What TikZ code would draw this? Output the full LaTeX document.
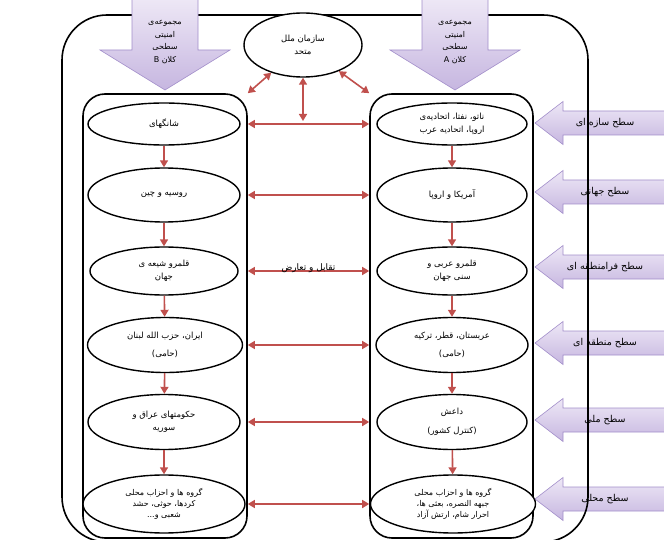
\documentclass[tikz,border=0pt]{standalone}
\usepackage{fontspec}
\newfontfamily\fafont[Script=Arabic]{DejaVu Sans}
\TeXXeTstate=1
\usetikzlibrary{positioning, calc, shapes.geometric, arrows.meta}
\definecolor{linkred}{HTML}{C0504D}
\definecolor{lavtop}{HTML}{EEE8F6}
\definecolor{lavbot}{HTML}{C6B6E0}
\definecolor{lavline}{HTML}{A28ECA}
\newcommand{\fatxt}[1]{\beginR #1\endR}

\begin{document}
\begin{tikzpicture}[x=1pt, y=-1pt,
    fabox/.style={draw, ellipse, line width=1.4pt, fill=white, inner sep=0pt, align=center, font=\fafont\fontsize{8.5}{12.5}\selectfont},
    colbox/.style={draw, rounded corners=22pt, line width=1.6pt, minimum width=164pt, minimum height=444pt},
    lavarrow/.style={draw=lavline, line width=0.6pt, top color=lavtop, bottom color=lavbot},
    lavtext/.style={font=\fafont\fontsize{9.5}{12}\selectfont, align=center},
    redone/.style={draw=linkred, line width=1.6pt, -{Triangle[width=8pt,length=7pt]}},
    redboth/.style={draw=linkred, line width=1.6pt, {Triangle[width=8pt,length=7pt]}-{Triangle[width=8pt,length=7pt]}}]
    \useasboundingbox (0,0) rectangle (664,540);

    % levels on the right side
    \foreach \yy/\lbl [count=\i] in {123/{سطح سازه ای}, 192/{سطح جهانی}, 267/{سطح فرامنطقه ای}, 343/{سطح منطقه ای}, 420/{سطح ملی}, 499/{سطح محلی}} {
        \draw [lavarrow] (535,\yy) -- (563,\yy-21.5) -- (563,\yy-12) -- (672,\yy-12) -- (672,\yy+12) -- (563,\yy+12) -- (563,\yy+21.5) -- cycle;
        \node (s\i) [lavtext] at (605,\yy) {\fatxt{\lbl}};
    }

    % frame and the two columns
    \draw [line width=1.6pt, rounded corners=45pt] (62,15) rectangle (588,542);
    \node (colL) [colbox] at (165,316) {};
    \node (colR) [colbox, minimum width=163pt] at (451.5,316) {};

    % the two macro security complexes
    \draw [lavarrow] (132,-2) -- (198,-2) -- (198,50) -- (230,50) -- (165,90) -- (100,50) -- (132,50) -- cycle;
    \node (setB) [lavtext, font=\fafont\fontsize{8}{12.5}\selectfont] at (165,42) {\fatxt{مجموعه‌ی}\\\fatxt{امنیتی}\\\fatxt{سطحی}\\\fatxt{کلان B}};
    \draw [lavarrow] (422,-2) -- (488,-2) -- (488,50) -- (520,50) -- (455,90) -- (390,50) -- (422,50) -- cycle;
    \node (setA) [lavtext, font=\fafont\fontsize{8}{12.5}\selectfont] at (455,42) {\fatxt{مجموعه‌ی}\\\fatxt{امنیتی}\\\fatxt{سطحی}\\\fatxt{کلان A}};

    \node (un) [fabox, minimum width=118pt, minimum height=64pt] at (303,45) {\fatxt{سازمان ملل}\\\fatxt{متحد}};

    % left column
    \node (l1) [fabox, minimum width=152pt, minimum height=42pt] at (164,124) {\fatxt{شانگهای}};
    \node (l2) [fabox, minimum width=152pt, minimum height=54pt] at (164,195) {\fatxt{روسیه و چین}};
    \node (l3) [fabox, minimum width=148pt, minimum height=48pt] at (164,271) {\fatxt{قلمرو شیعه ی}\\\fatxt{جهان}};
    \node (l4) [fabox, minimum width=155pt, minimum height=55pt] at (165,345) {\fatxt{ایران، حزب الله لبنان}\\[6pt]\fatxt{(حامی)}};
    \node (l5) [fabox, minimum width=152pt, minimum height=55pt] at (164,422) {\fatxt{حکومتهای عراق و}\\\fatxt{سوریه}};
    \node (l6) [fabox, minimum width=162pt, minimum height=58pt, font=\fafont\fontsize{8}{11}\selectfont] at (164,504) {\fatxt{گروه ها و احزاب محلی}\\\fatxt{کردها، حوثی، حشد}\\\fatxt{شعبی و...}};

    % right column
    \node (r1) [fabox, minimum width=150pt, minimum height=42pt] at (452,124) {\fatxt{ناتو، نفتا، اتحادیه‌ی}\\\fatxt{اروپا، اتحادیه عرب}};
    \node (r2) [fabox, minimum width=150pt, minimum height=54pt] at (452,195) {\fatxt{آمریکا و اروپا}};
    \node (r3) [fabox, minimum width=150pt, minimum height=48pt] at (452,271) {\fatxt{قلمرو عربی و}\\\fatxt{سنی جهان}};
    \node (r4) [fabox, minimum width=152pt, minimum height=55pt] at (452,345) {\fatxt{عربستان، قطر، ترکیه}\\[6pt]\fatxt{(حامی)}};
    \node (r5) [fabox, minimum width=150pt, minimum height=55pt] at (452,422) {\fatxt{داعش}\\[6pt]\fatxt{(کنترل کشور)}};
    \node (r6) [fabox, minimum width=165pt, minimum height=58pt, font=\fafont\fontsize{8}{11}\selectfont] at (453,504) {\fatxt{گروه ها و احزاب محلی}\\\fatxt{جبهه النصره، بعثی ها،}\\\fatxt{احرار شام، ارتش آزاد}};

    % links to the UN
    \coordinate (mid1) at (303,121);
    \draw [redboth] (un) -- (colL.north east);
    \draw [redboth] (un) -- (colR.north west);
    \draw [redboth] (un) -- (mid1);

    % down the columns
    \draw [redone] (l1) -- (l2);
    \draw [redone] (l2) -- (l3);
    \draw [redone] (l3) -- (l4);
    \draw [redone] (l4) -- (l5);
    \draw [redone] (l5) -- (l6);
    \draw [redone] (r1) -- (r2);
    \draw [redone] (r2) -- (r3);
    \draw [redone] (r3) -- (r4);
    \draw [redone] (r4) -- (r5);
    \draw [redone] (r5) -- (r6);

    % across the columns
    \draw [redboth] (l1 -| colL.east) -- (l1 -| colR.west);
    \draw [redboth] (l2 -| colL.east) -- (l2 -| colR.west);
    \draw [redboth] (l3 -| colL.east) -- (l3 -| colR.west) node[midway, yshift=3pt, font=\fafont\fontsize{9}{10}\selectfont] {\fatxt{تقابل و تعارض}};
    \draw [redboth] (l4 -| colL.east) -- (l4 -| colR.west);
    \draw [redboth] (l5 -| colL.east) -- (l5 -| colR.west);
    \draw [redboth] (l6 -| colL.east) -- (l6 -| colR.west);
\end{tikzpicture}
\end{document}
